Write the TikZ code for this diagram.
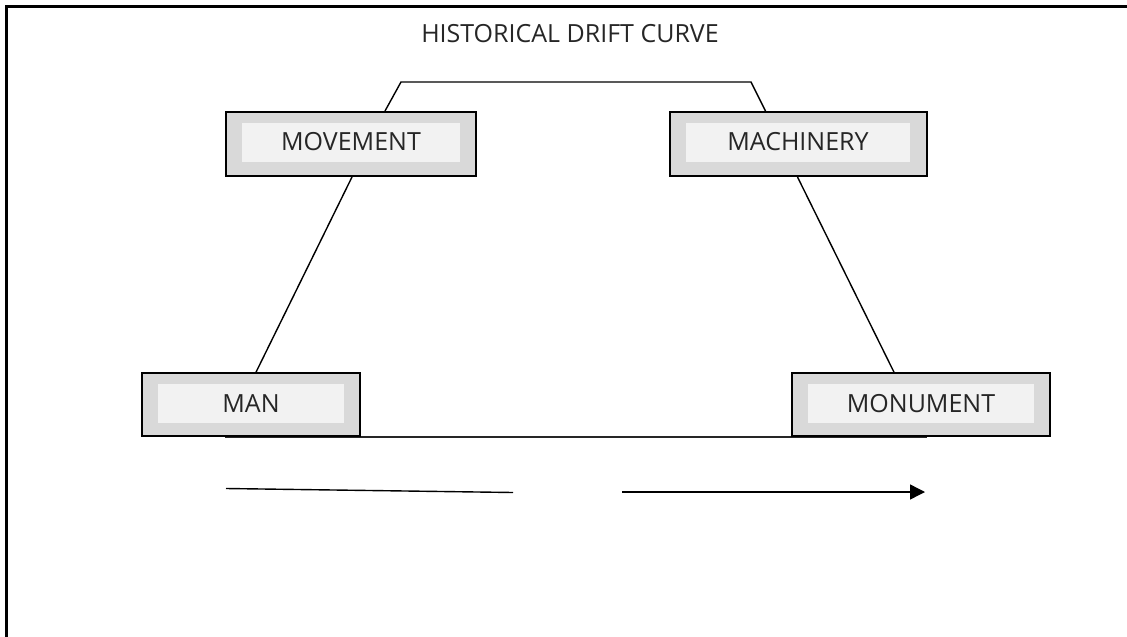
\documentclass[tikz,border=0pt]{standalone}
\usepackage{fontspec}
\setmainfont{Open Sans}
\usetikzlibrary{arrows.meta,calc}

\definecolor{boxgray}{HTML}{D9D9D9}
\definecolor{boxlight}{HTML}{F2F2F2}
\definecolor{textdark}{HTML}{262626}

\tikzset{
  outerbox/.style={draw=black, line width=2pt, fill=boxgray,
    minimum width=#1, minimum height=63pt, inner sep=0pt},
  innerbox/.style={fill=boxlight, minimum width=#1, minimum height=39pt,
    inner sep=0pt, text=textdark, font=\fontsize{25}{30}\selectfont},
  link/.style={line width=1.4pt, black},
}

\begin{document}
\begin{tikzpicture}[x=1pt,y=-1pt]
  \useasboundingbox (0,0) rectangle (1127,637);

  % frame, open at the right and bottom
  \draw[line width=2.3pt] (6.5,645) -- (6.5,6.5) -- (1135,6.5);

  % title
  \node[text=textdark, font=\fontsize{25}{30}\selectfont, anchor=base] (title) at (570,42) {HISTORICAL DRIFT CURVE};

  % base line running under the two lower boxes
  \coordinate (baseL) at (225,437);
  \coordinate (baseR) at (927,437);
  \draw[line width=1.4pt, black!85] (baseL) -- (baseR);

  % outer boxes
  \node[outerbox=250pt, minimum height=64pt] (movement) at (351,144) {};
  \node[outerbox=257pt, minimum height=64pt] (machinery) at (798,144) {};
  \node[outerbox=218pt] (man) at (251,404.7) {};
  \node[outerbox=258pt] (monument) at (921,404.7) {};

  % inner label panels
  \node[innerbox=218pt] (movement-in) at (351,142) {MOVEMENT};
  \node[innerbox=224pt] (machinery-in) at (798,142) {MACHINERY};
  \node[innerbox=186pt] (man-in) at (251,403.7) {MAN};
  \node[innerbox=226pt] (monument-in) at (921,403.7) {MONUMENT};

  % upper bridge between MOVEMENT and MACHINERY
  \draw[link] ([xshift=160pt]movement.north west) -- (401,82) -- (751,82)
    -- ([xshift=97pt]machinery.north west);

  % slanted sides
  \draw[link] ([xshift=127pt]movement.south west) -- ([xshift=115pt]man.north west);
  \draw[link] ([xshift=129pt]machinery.south west) -- ([xshift=103pt]monument.north west);

  % drift arrow below
  \coordinate (d1) at (226,488.5);
  \coordinate (d2) at (513,492.5);
  \coordinate (d3) at (622,492);
  \coordinate (d4) at (925,492);
  \draw[link] (d1) -- (d2);
  \draw[link, -{Triangle[length=15pt,width=15pt]}] (d3) -- (d4);
\end{tikzpicture}
\end{document}
